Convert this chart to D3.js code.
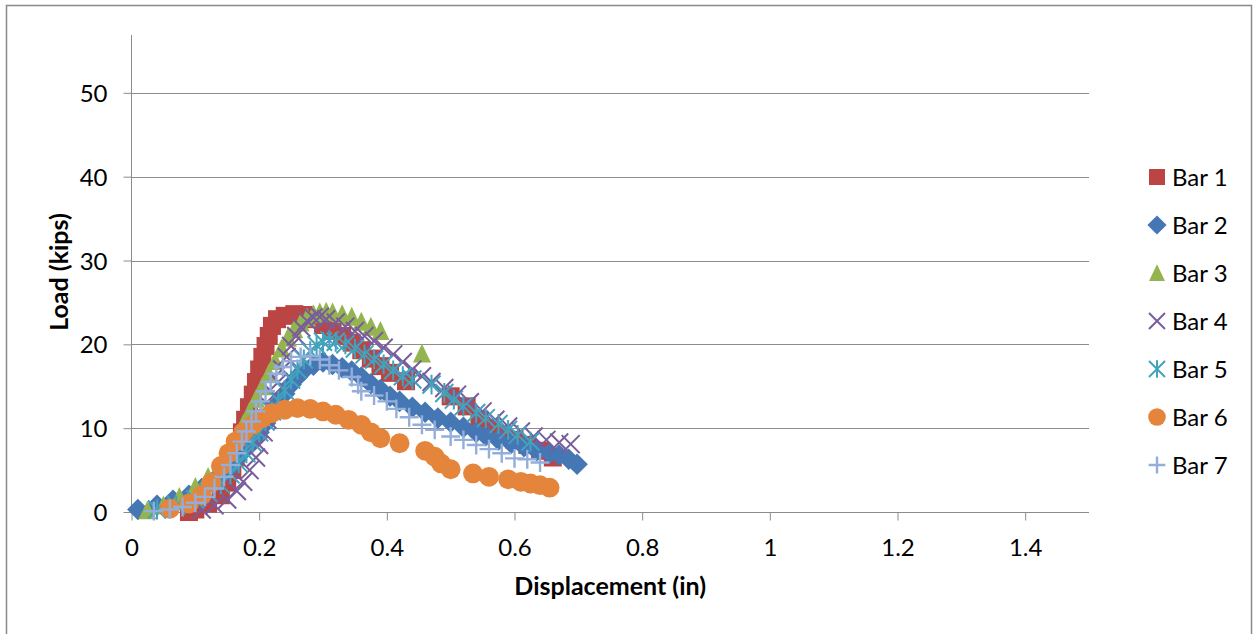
<!DOCTYPE html>
<html>
<head>
<meta charset="utf-8">
<script src="https://cdn.jsdelivr.net/npm/d3@7"></script>
<style>
  body { margin: 0; background: #fff; }
  text { font-family: Lato, "Open Sans", sans-serif; fill: #000; }
</style>
</head>
<body>
<div id="chart"></div>
<script>
// Series names and colours
var seriesNames = ['Bar 1', 'Bar 2', 'Bar 3', 'Bar 4', 'Bar 5', 'Bar 6', 'Bar 7']
var seriesColors = ['#BA4542', '#4677B5', '#94B450', '#7A5C9C', '#41A3BE', '#E5853B', '#93AEDA']
var seriesShapes = ['square', 'diamond', 'triangle', 'x', 'star', 'circle', 'plus']

// Tick labels
var xTicks = [0, 0.2, 0.4, 0.6, 0.8, 1, 1.2, 1.4]
var yTicks = [0, 10, 20, 30, 40, 50]

// Each series: [displacement (in), load (kips)]
var bar1 = [[0.09, 0.0], [0.1, 0.3], [0.12, 1.0], [0.14, 2.0], [0.15, 3.5], [0.158, 5.0], [0.163, 6.5],
  [0.168, 8.0], [0.173, 9.5], [0.178, 11.0], [0.184, 12.5], [0.19, 14.0], [0.195, 15.5], [0.2, 17.0],
  [0.205, 18.5], [0.21, 19.8], [0.215, 21.0], [0.22, 22.2], [0.228, 23.0], [0.24, 23.4], [0.255, 23.6],
  [0.27, 23.5], [0.285, 23.0], [0.3, 22.3], [0.315, 21.6], [0.33, 21.0], [0.345, 20.2], [0.36, 19.3],
  [0.375, 18.3], [0.39, 17.4], [0.405, 16.6], [0.43, 15.6], [0.5, 13.8], [0.525, 12.6], [0.545, 11.0],
  [0.56, 10.0], [0.58, 9.3], [0.6, 8.6], [0.62, 8.0], [0.64, 7.3], [0.66, 6.5]]
var bar2 = [[0.01, 0.3], [0.04, 0.8], [0.065, 1.4], [0.09, 2.0], [0.11, 2.8], [0.13, 3.8], [0.15, 5.0],
  [0.165, 6.3], [0.18, 7.6], [0.19, 8.6], [0.2, 9.5], [0.21, 10.6], [0.22, 11.8], [0.23, 13.0],
  [0.24, 14.1], [0.25, 15.2], [0.26, 16.1], [0.27, 16.9], [0.285, 17.5], [0.3, 17.9], [0.315, 17.6],
  [0.33, 17.2], [0.345, 16.8], [0.36, 16.1], [0.375, 15.3], [0.39, 14.6], [0.405, 13.8], [0.42, 13.2],
  [0.44, 12.5], [0.46, 11.9], [0.48, 11.2], [0.5, 10.7], [0.52, 10.1], [0.54, 9.5], [0.555, 9.1],
  [0.575, 8.6], [0.595, 8.2], [0.615, 7.8], [0.635, 7.3], [0.655, 7.0], [0.67, 6.8], [0.685, 6.3], [0.698, 5.7]]
var bar3 = [[0.025, 0.2], [0.05, 0.8], [0.075, 1.8], [0.1, 3.0], [0.12, 4.2], [0.14, 5.8], [0.155, 7.5],
  [0.165, 9.0], [0.175, 10.5], [0.185, 12.0], [0.195, 13.5], [0.205, 15.0], [0.215, 16.5], [0.225, 18.0],
  [0.235, 19.5], [0.245, 20.8], [0.255, 21.8], [0.265, 22.6], [0.275, 23.2], [0.285, 23.6], [0.295, 23.8],
  [0.305, 23.9], [0.315, 23.8], [0.33, 23.6], [0.345, 23.3], [0.36, 22.7], [0.375, 22.1], [0.39, 21.6], [0.455, 18.9]]
var bar4 = [[0.11, 0.3], [0.13, 0.8], [0.15, 1.5], [0.165, 2.5], [0.175, 3.6], [0.185, 5.0], [0.195, 6.5],
  [0.2, 8.0], [0.207, 9.5], [0.213, 11.0], [0.218, 12.5], [0.224, 14.0], [0.23, 15.5], [0.236, 17.0],
  [0.243, 18.5], [0.25, 19.8], [0.258, 21.0], [0.266, 22.0], [0.275, 22.8], [0.285, 23.2], [0.295, 23.3],
  [0.305, 23.0], [0.32, 22.6], [0.335, 22.1], [0.35, 21.6], [0.365, 21.0], [0.38, 20.4], [0.395, 19.6],
  [0.41, 18.8], [0.425, 17.9], [0.44, 17.0], [0.455, 16.2], [0.47, 15.5], [0.49, 14.8], [0.51, 14.0],
  [0.53, 13.1], [0.55, 12.0], [0.57, 11.0], [0.59, 10.2], [0.61, 9.6], [0.63, 9.0], [0.65, 8.6], [0.67, 8.3], [0.688, 8.1]]
var bar5 = [[0.04, 0.3], [0.07, 0.8], [0.1, 1.5], [0.12, 2.3], [0.14, 3.3], [0.155, 4.5], [0.168, 5.8],
  [0.18, 7.0], [0.19, 8.3], [0.2, 9.5], [0.21, 10.8], [0.22, 12.0], [0.23, 13.3], [0.24, 14.5],
  [0.25, 15.8], [0.26, 17.0], [0.27, 18.2], [0.28, 19.2], [0.29, 19.9], [0.3, 20.3], [0.31, 20.5],
  [0.32, 20.3], [0.335, 20.0], [0.35, 19.5], [0.365, 18.8], [0.38, 18.2], [0.395, 17.6], [0.41, 16.9],
  [0.425, 16.2], [0.44, 15.8], [0.47, 15.2], [0.49, 14.2], [0.505, 13.4], [0.52, 12.6], [0.54, 11.8],
  [0.555, 11.2], [0.575, 10.5], [0.59, 9.8], [0.605, 9.2], [0.625, 8.4]]
var bar6 = [[0.06, 0.4], [0.09, 1.0], [0.11, 2.0], [0.125, 3.5], [0.14, 5.5], [0.152, 7.0], [0.163, 8.4],
  [0.175, 9.5], [0.19, 10.4], [0.205, 11.2], [0.22, 11.8], [0.24, 12.2], [0.26, 12.4], [0.28, 12.3],
  [0.3, 12.0], [0.32, 11.6], [0.34, 11.0], [0.36, 10.4], [0.375, 9.5], [0.39, 8.8], [0.42, 8.2],
  [0.46, 7.3], [0.475, 6.6], [0.485, 5.8], [0.5, 5.1], [0.535, 4.6], [0.56, 4.2], [0.59, 3.9],
  [0.61, 3.6], [0.625, 3.4], [0.64, 3.2], [0.655, 2.9]]
var bar7 = [[0.035, 0.1], [0.06, 0.3], [0.08, 0.6], [0.1, 1.1], [0.115, 1.8], [0.13, 2.8], [0.145, 4.2],
  [0.155, 5.6], [0.165, 7.0], [0.173, 8.4], [0.18, 9.6], [0.188, 10.8], [0.195, 12.0], [0.202, 13.2],
  [0.21, 14.4], [0.218, 15.5], [0.227, 16.5], [0.237, 17.3], [0.25, 18.0], [0.265, 18.5], [0.28, 18.6],
  [0.295, 18.2], [0.31, 17.5], [0.325, 16.9], [0.345, 16.1], [0.355, 15.2], [0.36, 14.4], [0.38, 13.9],
  [0.4, 13.2], [0.415, 12.3], [0.435, 11.3], [0.455, 10.4], [0.475, 9.8], [0.5, 9.0], [0.52, 8.6],
  [0.54, 8.0], [0.56, 7.5], [0.58, 7.0], [0.6, 6.4], [0.62, 6.3], [0.64, 5.9]]
var seriesData = [bar1, bar2, bar3, bar4, bar5, bar6, bar7]

// Layout
var width = 1253
var height = 634
var plot = { left: 131.5, right: 1089, top: 35, bottom: 512 }

var svg = d3.select('#chart').append('svg')
  .attr('width', width)
  .attr('height', height)

// Outer chart border
svg.append('rect')
  .attr('x', 6.5).attr('y', 5.5)
  .attr('width', 1245).attr('height', 640)
  .attr('fill', '#fff')
  .attr('stroke', '#898989')
  .attr('stroke-width', 1.5)

var x = d3.scaleLinear().domain([0, 1.5]).range([plot.left, plot.right])
var y = d3.scaleLinear().domain([0, 56.9]).range([plot.bottom, plot.top])

// Gridlines
svg.append('g').selectAll('line')
  .data(yTicks.slice(1))
  .enter().append('line')
  .attr('x1', plot.left).attr('x2', plot.right)
  .attr('y1', function (d) { return Math.round(y(d)) + 0.5 })
  .attr('y2', function (d) { return Math.round(y(d)) + 0.5 })
  .attr('stroke', '#8c8c8c')
  .attr('stroke-width', 1)

// Y axis
var yAxis = svg.append('g')
  .attr('transform', 'translate(' + plot.left + ',0)')
  .call(d3.axisLeft(y).tickValues(yTicks).tickSize(8).tickPadding(16).tickFormat(d3.format('d')))
yAxis.select('.domain').attr('stroke', '#8c8c8c').attr('d', 'M0,' + plot.top + 'V' + plot.bottom)
yAxis.selectAll('.tick line').attr('stroke', '#8c8c8c')
yAxis.selectAll('.tick text').style('font-size', '24px').attr('dy', '0.36em')

// X axis
var xAxis = svg.append('g')
  .attr('transform', 'translate(0,' + (plot.bottom + 0.5) + ')')
  .call(d3.axisBottom(x).tickValues(xTicks).tickSize(8).tickPadding(18).tickFormat(d3.format('')))
xAxis.select('.domain').attr('stroke', '#8c8c8c').attr('d', 'M' + plot.left + ',0H' + plot.right)
xAxis.selectAll('.tick line').attr('stroke', '#8c8c8c')
xAxis.selectAll('.tick text').style('font-size', '24px')

// Axis titles
svg.append('text')
  .attr('x', (plot.left + plot.right) / 2)
  .attr('y', 595)
  .attr('text-anchor', 'middle')
  .style('font-size', '25px')
  .style('font-weight', 'bold')
  .text('Displacement (in)')

svg.append('text')
  .attr('transform', 'translate(68,272) rotate(-90)')
  .attr('text-anchor', 'middle')
  .style('font-size', '25px')
  .style('font-weight', 'bold')
  .text('Load (kips)')

/**
 * Draw a marker of the given shape centred on 0,0
 */
function drawMarker (g, shape, color, s) {
  var h = s / 2
  if (shape === 'square') {
    g.append('rect').attr('x', -h).attr('y', -h).attr('width', s).attr('height', s).attr('fill', color)
  } else if (shape === 'diamond') {
    var k = h * 1.2
    g.append('path').attr('d', 'M0,' + -k + 'L' + k + ',0L0,' + k + 'L' + -k + ',0Z').attr('fill', color)
  } else if (shape === 'triangle') {
    g.append('path').attr('d', 'M0,' + (-h * 1.1) + 'L' + h + ',' + h + 'L' + -h + ',' + h + 'Z').attr('fill', color)
  } else if (shape === 'circle') {
    g.append('circle').attr('r', h * 1.1).attr('fill', color)
  } else if (shape === 'x') {
    g.append('path').attr('d', 'M' + -h + ',' + -h + 'L' + h + ',' + h + 'M' + h + ',' + -h + 'L' + -h + ',' + h)
      .attr('stroke', color).attr('stroke-width', 2).attr('fill', 'none')
  } else if (shape === 'star') {
    g.append('path').attr('d', 'M' + -h + ',' + -h + 'L' + h + ',' + h + 'M' + h + ',' + -h + 'L' + -h + ',' + h +
      'M0,' + -h * 1.1 + 'V' + h * 1.1)
      .attr('stroke', color).attr('stroke-width', 2).attr('fill', 'none')
  } else if (shape === 'plus') {
    g.append('path').attr('d', 'M' + -h * 1.05 + ',0H' + h * 1.05 + 'M0,' + -h * 1.05 + 'V' + h * 1.05)
      .attr('stroke', color).attr('stroke-width', 2.4).attr('fill', 'none')
  }
}

// Markers, series drawn in order so later ones sit on top
var plotArea = svg.append('g')
seriesData.forEach(function (data, si) {
  var grp = plotArea.append('g').attr('class', 'series')
  data.forEach(function (d) {
    var m = grp.append('g').attr('transform', 'translate(' + x(d[0]) + ',' + y(d[1]) + ')')
    drawMarker(m, seriesShapes[si], seriesColors[si], 18)
  })
})

// Legend
var legend = svg.append('g')
var legendRow = legend.selectAll('.legend-row')
  .data(seriesNames)
  .enter().append('g')
  .attr('class', 'legend-row')
  .attr('transform', function (d, i) { return 'translate(1157,' + (177 + i * 48) + ')' })

legendRow.each(function (d, i) {
  drawMarker(d3.select(this), seriesShapes[i], seriesColors[i], 16)
})

legendRow.append('text')
  .attr('x', 15)
  .attr('dy', '0.36em')
  .style('font-size', '24px')
  .text(function (d) { return d })
</script>
</body>
</html>
